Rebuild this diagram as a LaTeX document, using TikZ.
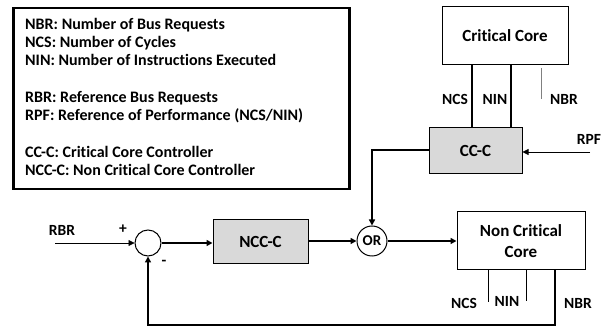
\documentclass[tikz,border=0pt]{standalone}
\usepackage{fontspec}
\setmainfont{Carlito}[Ligatures=NoCommon]
\usetikzlibrary{arrows.meta}
\begin{document}
\begin{tikzpicture}[x=1pt,y=-1pt,
  lbl/.style={font=\bfseries\fontsize{15.5}{18}\selectfont, inner sep=0pt},
  blk/.style={draw, line width=1pt, font=\bfseries\fontsize{17}{20}\selectfont, align=center, inner sep=0pt},
  ctl/.style={blk, fill=gray!30},
  junc/.style={draw, circle, line width=1pt, inner sep=0pt, minimum size=#1},
  thick line/.style={line width=2pt},
  thin line/.style={line width=0.8pt},
  arr/.style={-{Triangle[length=6pt,width=6pt]}}]
\useasboundingbox (0,0) rectangle (608,328);

% legend
\node[draw, line width=2.5pt, minimum width=336pt, minimum height=181pt, anchor=north west,
      inner sep=0pt] (legend) at (12,7) {};
\node[lbl, anchor=west, align=left, font=\bfseries\fontsize{16}{18.3}\selectfont] (legtext) at (25,97)
  {NBR: Number of Bus Requests\\
   NCS: Number of Cycles\\
   NIN: Number of Instructions Executed\\[18.3pt]
   RBR: Reference Bus Requests\\
   RPF: Reference of Performance (NCS/NIN)\\[18.3pt]
   CC-C: Critical Core Controller\\
   NCC-C: Non Critical Core Controller};

% blocks
\node[blk, minimum width=126pt, minimum height=58pt] (cc) at (505,36) {Critical Core};
\node[ctl, minimum width=93pt, minimum height=46pt] (ccc) at (475.5,151) {CC-C};
\node[ctl, minimum width=95pt, minimum height=44pt] (nccc) at (260.5,242) {NCC-C};
\node[blk, minimum width=128pt, minimum height=58pt] (ncc) at (521,241) {Non Critical\\[1pt]Core};
\node[junc=26pt] (sum) at (148,243) {};
\node[junc=30pt, font=\bfseries\fontsize{15}{18}\selectfont] (or) at (372,241) {OR};

% critical core measurements
\draw[thick line] (cc.south -| 472,0) -- (ccc.north -| 472,0);
\draw[thick line] (cc.south -| 511,0) -- (ccc.north -| 511,0);
\draw[thin line, gray] (541,68) coordinate (ccnbrtop) -- (541,99) coordinate (ccnbrbot);
\node[lbl] (ccncs) at (455,99) {NCS};
\node[lbl] (ccnin) at (495,99) {NIN};
\node[lbl] (ccnbr) at (564,99) {NBR};

% RPF input
\coordinate (rpfin) at (590,152);
\node[lbl] (rpf) at (589,139) {RPF};
\draw[thin line, arr] (rpfin) -- (ccc.east |- rpfin);

% CC-C to OR
\draw[thick line, arr] (ccc.west |- 0,150) -| (or.north);

% main path
\coordinate (rbrin) at (55,243);
\node[lbl] (rbr) at (62,230) {RBR};
\node[lbl] (plus) at (123,229) {+};
\node[lbl] (minus) at (164,263) {-};
\draw[thin line, arr] (rbrin) -- (sum.west);
\draw[thick line, arr] (sum.east) -- (nccc.west |- sum.east);
\draw[thick line, arr] (nccc.east |- or.west) -- (or.west);
\draw[thick line, arr] (or.east) -- (ncc.west |- or.east);

% non critical core measurements
\draw[thin line] (ncc.south -| 488,0) -- (488,302) coordinate (nccncsend);
\draw[thin line] (ncc.south -| 526,0) -- (526,301) coordinate (nccninend);
\node[lbl] (nccncs) at (464,303) {NCS};
\node[lbl] (nccnin) at (507,301) {NIN};
\node[lbl] (nccnbr) at (578,303) {NBR};

% feedback of NBR
\coordinate (fbcorner) at (555,325);
\draw[thick line, arr] (ncc.south -| fbcorner) -- (fbcorner) -| (sum.south);
\end{tikzpicture}
\end{document}
